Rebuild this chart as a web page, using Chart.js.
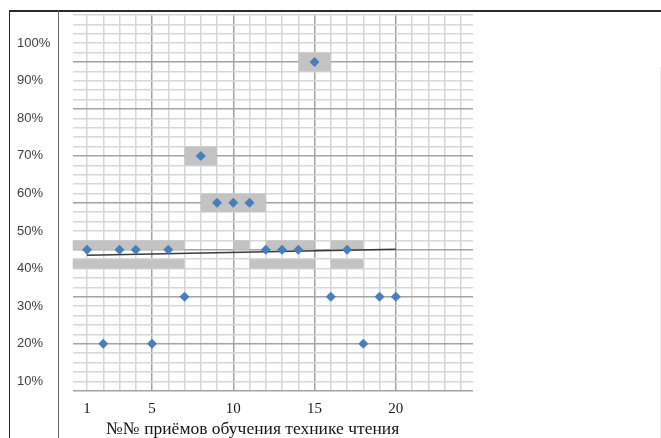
<!DOCTYPE html>
<html>
<head>
<meta charset="utf-8">
<script src="https://cdn.jsdelivr.net/npm/chart.js@4.4.1/dist/chart.umd.min.js"></script>
<style>
  html, body { margin: 0; padding: 0; background: #fff; }
  #wrap { position: relative; width: 661px; height: 438px; overflow: hidden; }
  #chart { position: absolute; left: 0; top: 0; }
  .frame { position: absolute; left: 9px; top: 10px; right: 0; bottom: 0;
           border-top: 2px solid #2a2a2a; border-left: 1px solid #222; pointer-events: none; }
  .divider { position: absolute; left: 58px; top: 11px; bottom: 0; width: 0;
             border-left: 1.5px solid #666; pointer-events: none; }
  .edge { position: absolute; left: 660px; top: 67px; bottom: 0; width: 0;
          border-left: 1px solid #ececec; pointer-events: none; }
</style>
</head>
<body>
<div id="wrap">
  <canvas id="chart" width="661" height="438"></canvas>
  <div class="frame"></div>
  <div class="divider"></div>
  <div class="edge"></div>
</div>
<script>
// Reading-technique methods (№) and the share of pupils for each one, %
const methodNumbers = [1, 2, 3, 4, 5, 6, 7, 8, 9, 10, 11, 12, 13, 14, 15, 16, 17, 18, 19, 20];
const shareValues   = [45, 20, 45, 45, 20, 45, 32.5, 70, 57.5, 57.5, 57.5, 45, 45, 45, 95, 32.5, 45, 20, 32.5, 32.5];

// Shaded highlight bands: x range (method numbers) and y range (%)
const bandFrom = [0, 0, 7, 8, 10, 12, 11, 14, 16, 16];
const bandTo   = [7, 7, 9, 12, 11, 15, 15, 16, 18, 18];
const bandLow  = [45, 40, 67.5, 55, 45, 45, 40, 92.5, 45, 40];
const bandHigh = [47.5, 42.5, 72.5, 60, 47.5, 47.5, 42.5, 97.5, 47.5, 42.5];

// Axis ticks that carry labels
const xLabeledTicks = [1, 5, 10, 15, 20];
const yLabeledTicks = [10, 20, 30, 40, 50, 60, 70, 80, 90, 100];
const yTickLabels   = ['10%', '20%', '30%', '40%', '50%', '60%', '70%', '80%', '90%', '100%'];

const xAxisTitle = '№№ приёмов обучения технике чтения';

// Linear trend through the points (least squares)
function linearTrend(xs, ys) {
  const n = xs.length;
  const mx = xs.reduce((a, b) => a + b, 0) / n;
  const my = ys.reduce((a, b) => a + b, 0) / n;
  let sxy = 0, sxx = 0;
  for (let i = 0; i < n; i++) {
    sxy += (xs[i] - mx) * (ys[i] - my);
    sxx += (xs[i] - mx) * (xs[i] - mx);
  }
  const slope = sxy / sxx;
  const at = x => my + slope * (x - mx);
  const x0 = Math.min(...xs), x1 = Math.max(...xs);
  return [{ x: x0, y: at(x0) }, { x: x1, y: at(x1) }];
}

const points = methodNumbers.map((x, i) => ({ x, y: shareValues[i] }));
const trend = linearTrend(methodNumbers, shareValues);

const near = (a, b) => Math.abs(a - b) < 1e-6;
const isMajorX = v => near(v % 5, 0);
const isMajorY = v => near(((v - 7.5) % 12.5 + 12.5) % 12.5, 0) && !near(v, 107.5);

const bandsPlugin = {
  id: 'bands',
  beforeDatasetsDraw(chart) {
    const { ctx, chartArea, scales: { x, y } } = chart;
    ctx.save();
    ctx.beginPath();
    ctx.rect(chartArea.left, chartArea.top, chartArea.right - chartArea.left, chartArea.bottom - chartArea.top);
    ctx.clip();
    ctx.fillStyle = '#c3c3c3';
    for (let i = 0; i < bandFrom.length; i++) {
      const l = x.getPixelForValue(bandFrom[i]);
      const r = x.getPixelForValue(bandTo[i]);
      const t = y.getPixelForValue(bandHigh[i]);
      const b = y.getPixelForValue(bandLow[i]);
      ctx.fillRect(l, t, r - l, b - t);
    }
    ctx.restore();
  }
};

const axisTitlePlugin = {
  id: 'axisTitle',
  afterDraw(chart) {
    const { ctx, scales: { x } } = chart;
    ctx.save();
    ctx.font = '17.5px "Liberation Serif", "Times New Roman", serif';
    ctx.fillStyle = '#151515';
    ctx.textAlign = 'center';
    ctx.textBaseline = 'alphabetic';
    ctx.fillText(xAxisTitle, x.getPixelForValue(11.2), 434);
    ctx.restore();
  }
};

new Chart(document.getElementById('chart'), {
  type: 'scatter',
  data: {
    datasets: [
      {
        data: points,
        pointStyle: 'rectRot',
        pointRadius: 5,
        backgroundColor: '#4a7ebb',
        borderColor: '#4a7ebb',
        borderWidth: 0
      },
      {
        type: 'line',
        data: trend,
        borderColor: '#3a3a3a',
        borderWidth: 1.5,
        pointRadius: 0,
        fill: false
      }
    ]
  },
  options: {
    responsive: false,
    animation: false,
    events: [],
    layout: { padding: { left: 17, top: 15, right: 188, bottom: 0 } },
    plugins: { legend: { display: false }, tooltip: { enabled: false } },
    scales: {
      x: {
        type: 'linear',
        min: 0.12,
        max: 24.75,
        afterFit(scale) { scale.height = 47.3; },
        border: { display: false },
        grid: {
          drawTicks: false,
          color: ctx => isMajorX(ctx.tick.value) ? '#a3a3a3' : '#d6d6d6',
          lineWidth: 1.5
        },
        ticks: {
          stepSize: 1,
          includeBounds: false,
          autoSkip: false,
          maxRotation: 0,
          padding: 9,
          color: '#1a1a1a',
          font: { family: '"Liberation Serif", "Times New Roman", serif', size: 15 },
          callback: v => xLabeledTicks.includes(v) ? String(v) : ''
        }
      },
      y: {
        type: 'linear',
        min: 7.5,
        max: 107.5,
        afterFit(scale) { scale.width = 55.7; },
        border: { display: false },
        grid: {
          drawTicks: false,
          color: ctx => isMajorY(ctx.tick.value) ? '#a3a3a3' : '#d6d6d6',
          lineWidth: 1.5
        },
        ticks: {
          stepSize: 2.5,
          autoSkip: false,
          crossAlign: 'far',
          color: '#404040',
          font: { family: '"Liberation Sans", Arial, sans-serif', size: 13 },
          callback: v => {
            const i = yLabeledTicks.findIndex(t => near(t, v));
            return i >= 0 ? yTickLabels[i] : '';
          }
        }
      }
    }
  },
  plugins: [bandsPlugin, axisTitlePlugin]
});
</script>
</body>
</html>
